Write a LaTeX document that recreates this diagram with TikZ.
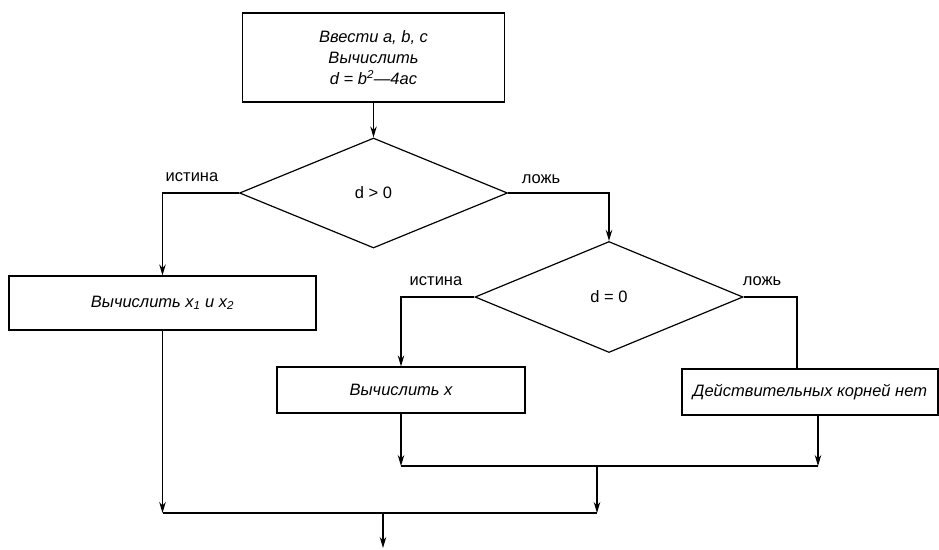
\documentclass[tikz,border=0pt]{standalone}
\usepackage{fontspec}
\setmainfont{Liberation Sans}
\usetikzlibrary{shapes.geometric, arrows.meta, positioning, calc}

\tikzset{
  block/.style={draw, rectangle, inner sep=0pt, align=center,
    font=\fontsize{16.5}{21}\selectfont\itshape},
  cond/.style={draw, diamond, inner sep=0pt, minimum width=268pt,
    minimum height=110pt, font=\fontsize{16.5}{21}\selectfont},
  branch/.style={font=\fontsize{16.5}{21}\selectfont},
}

\begin{document}
\begin{tikzpicture}[x=1pt, y=-1pt, line width=1.2pt, >={Stealth[length=11pt,width=6.5pt]}]
\useasboundingbox (0,0) rectangle (939,549);

% input and discriminant
\node[block, minimum width=262pt, minimum height=89pt] (input) at (373.5,57.5)
  {Ввести a, b, c\\Вычислить\\d = b\textsuperscript{2}—4ac};

% first check
\node[cond] (check1) at (373.5,193) {d > 0};
\node[branch] (yes1) at (192,177) {истина};
\node[branch] (no1) at (541,179) {ложь};
\node[block, minimum width=307pt, minimum height=54pt] (roots2) at (162.5,303)
  {Вычислить x\textsubscript{1} и x\textsubscript{2}};

% second check
\node[cond, minimum height=111pt] (check2) at (609,297) {d = 0};
\node[branch] (yes2) at (436,281) {истина};
\node[branch] (no2) at (762,281) {ложь};
\node[block, minimum width=248pt, minimum height=46pt] (root1) at (401,390) {Вычислить x};
\node[block, minimum width=256pt, minimum height=46pt] (noroots) at (810,392)
  {Действительных корней нет};

% merge points
\coordinate (join1) at (597,466);
\coordinate (join2) at (383,513);
\coordinate (exit) at (383,548);

\draw[->] (input) -- (check1);
\draw[->] (check1.west) -| (roots2.north);
\draw[->] (check1.east) -| (check2.north);
\draw[->] (check2.west) -| (root1.north);
\draw (check2.east) -| ([xshift=-13pt]noroots.north);

\draw[->] (root1.south) -- (root1.south |- join1);
\draw[->] ([xshift=8pt]noroots.south) -- ([xshift=8pt]noroots.south |- join1);
\draw (root1.south |- join1) -- ([xshift=8pt]noroots.south |- join1);
\draw[->] (join1) -- (join1 |- join2);
\draw[->] (roots2.south) -- (roots2.south |- join2);
\draw (roots2.south |- join2) -- (join1 |- join2);
\draw[->] (join2) -- (exit);
\end{tikzpicture}
\end{document}
